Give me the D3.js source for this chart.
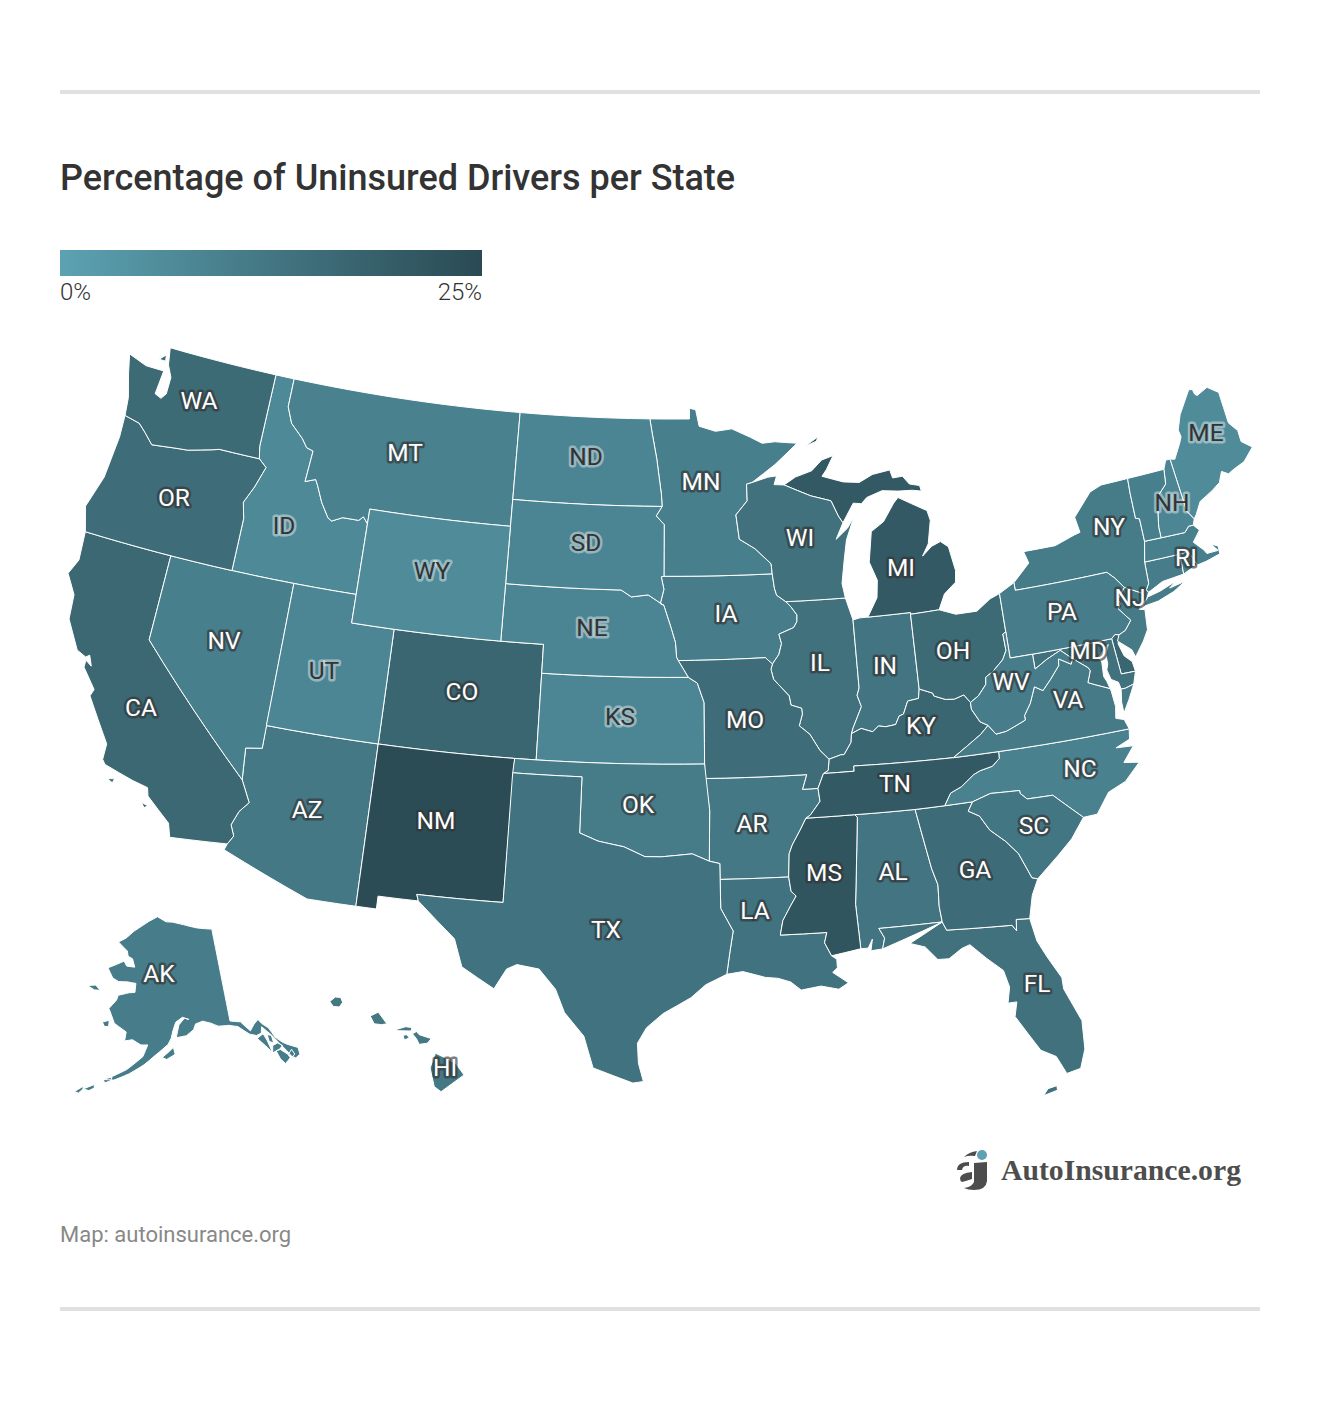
<!DOCTYPE html>
<html>
<head>
<meta charset="utf-8">
<title>Percentage of Uninsured Drivers per State</title>
<script src="https://d3js.org/d3.v7.min.js"></script>
<style>
  body { margin: 0; background: #fff; font-family: Roboto, sans-serif; }
  svg { display: block; }
  .state { stroke: #fff; stroke-width: 1; stroke-linejoin: round; }
  .abbr { font-size: 24.5px; text-anchor: middle; paint-order: stroke; stroke-width: 5px; stroke-linejoin: round; }
</style>
</head>
<body>
<div id="chart"></div>
<script>
// values, percent of uninsured drivers
var stateCodes = ["AK","AL","AR","AZ","CA","CO","CT","DE","FL","GA","HI","IA","ID","IL","IN","KS","KY","LA","MA","MD","ME","MI","MN","MO","MS","MT","NC","ND","NE","NH","NJ","NM","NV","NY","OH","OK","OR","PA","RI","SC","SD","TN","TX","UT","VA","VT","WA","WI","WV","WY"];
var uninsuredPct = [10.5,13,12,12,16.5,17,10.5,17,14,15.5,12,10.5,7,14,13,8,17,13.5,10,14,6.5,20.5,10,15,22,9.5,9.5,8.5,8.5,8,11.5,24.5,10,11,16,11,15,10.5,10,12.5,8.5,20.5,13.5,8,11.5,10,16,14,10.5,6.5];
var legendTicks = ["0%", "25%"];
var legendDomain = [0, 25];
var legendRange = ["#5ca2b2", "#2a4a53"];
var darkTextBelow = 9;

// shared borders as lon/lat chains, so both neighbours use the same line
var redNorth = [[-97.23,49],[-97.1,48.5],[-96.85,47.6],[-96.6,46.35],[-96.56,45.93]];
var sdMn = [[-96.56,45.93],[-96.85,45.6],[-96.45,45.3],[-96.45,43.5]];
var bigSioux = [[-96.45,43.5],[-96.58,43.48],[-96.45,43.05],[-96.62,42.55],[-96.45,42.49]];
var neSd = [[-104.05,43],[-98.5,43],[-98,42.77],[-97.2,42.85],[-96.45,42.49]];
var neIa = [[-96.45,42.49],[-96.1,41.7],[-95.9,41.2],[-95.85,40.7],[-95.77,40.58]];
var ksMo = [[-95.31,40],[-94.9,39.8],[-94.6,39.12],[-94.62,37]];
var stCroix = [[-92.01,46.71],[-92.29,46.66],[-92.29,46.08],[-92.88,45.6],[-92.75,44.75]];
var mnWi = [[-92.75,44.75],[-92,44.4],[-91.25,43.85],[-91.22,43.5]];
var iaWi = [[-91.22,43.5],[-91.15,43],[-91.06,42.75],[-90.64,42.51]];
var iaIl = [[-90.64,42.51],[-90.42,42.33],[-90.15,42.03],[-90.17,41.8],[-90.34,41.6],[-91.05,41.4],[-90.95,41.07],[-91.1,40.7],[-91.42,40.38]];
var moIl = [[-91.42,40.38],[-91.5,40.2],[-91.4,39.85],[-90.73,39.25],[-90.67,38.93],[-90.2,38.8],[-90.18,38.6],[-90.35,38.2],[-89.9,37.88],[-89.5,37.3],[-89.13,36.98]];
var moKy = [[-89.13,36.98],[-89.2,36.6],[-89.42,36.5]];
var arTn = [[-89.7,36],[-89.65,35.55],[-90.1,35.1],[-90.3,35]];
var arMs = [[-90.3,35],[-90.58,34.6],[-90.95,34.1],[-91.1,33.8],[-91.17,33]];
var laMs = [[-91.17,33],[-91.1,32.5],[-90.9,32.33],[-91.15,32],[-91.5,31.5],[-91.63,31],[-89.73,31],[-89.85,30.65],[-89.6,30.18]];
var ohioWv = [[-80.52,40.64],[-80.67,40.58],[-80.65,40],[-80.87,39.7],[-81.4,39.35],[-81.75,39.2],[-81.8,38.95],[-82.2,38.6],[-82.6,38.41]];
var ohKy = [[-82.6,38.41],[-82.85,38.7],[-83.3,38.6],[-83.7,38.63],[-84.2,38.8],[-84.23,38.9],[-84.82,39.1]];
var inKy = [[-84.82,39.1],[-84.9,38.78],[-85.4,38.73],[-85.65,38.3],[-85.85,38.25],[-86.05,37.97],[-86.5,37.93],[-86.82,37.98],[-87.1,37.8],[-87.6,37.95],[-88.05,37.8]];
var ilKy = [[-88.05,37.8],[-88.1,37.5],[-88.45,37.1],[-88.6,37.1],[-89.13,36.98]];
var ilIn = [[-87.53,41.71],[-87.53,39.35],[-87.65,39.1],[-87.5,38.7],[-87.95,38],[-88.05,37.8]];
var wvKy = [[-82.6,38.41],[-82.6,38.17],[-82.3,37.7],[-81.97,37.54]];
var wvVa = [[-81.97,37.54],[-81.68,37.2],[-81.22,37.24],[-80.85,37.35],[-80.3,37.52],[-80.3,37.68],[-79.96,38.06],[-79.65,38.6],[-79.3,38.42],[-78.87,38.76],[-78.4,39.17],[-78.35,39.4],[-77.83,39.14],[-77.72,39.32]];
var vaKy = [[-81.97,37.54],[-82.35,37.27],[-83.68,36.6]];
var kyTn = [[-89.42,36.5],[-88.07,36.5],[-88.07,36.68],[-86.5,36.65],[-83.68,36.6]];
var tnNc = [[-81.68,36.59],[-81.7,36.35],[-82.05,36.12],[-82.6,36.03],[-82.9,35.93],[-83.5,35.57],[-84,35.4],[-84.32,34.99]];
var ncSc = [[-83.11,35],[-82.3,35.2],[-81.04,35.15],[-81.04,35.05],[-80.78,34.82],[-79.67,34.8],[-78.55,33.86]];
var savannah = [[-83.11,35],[-83.35,34.7],[-82.9,34.48],[-82.55,33.95],[-81.95,33.48],[-81.5,33],[-81.1,32.1],[-80.87,32.03]];
var gaAl = [[-85.6,34.98],[-85.18,32.87],[-85,32.3],[-85.05,31.55],[-85,31]];
var alFl = [[-85,31],[-87.6,31],[-87.4,30.65],[-87.52,30.28]];
var gaFl = [[-85,31],[-84.86,30.7],[-82.2,30.57],[-82.05,30.36],[-82,30.75],[-81.45,30.71]];
var alMs = [[-88.2,35],[-88.1,34.9],[-88.47,31.9],[-88.4,30.35]];
var wiMi = [[-90.4,46.57],[-89.1,46.13],[-88.1,45.9],[-87.8,45.35],[-87.6,45.1]];
var delaware = [[-74.7,41.36],[-75.13,41],[-75.05,40.85],[-75.2,40.68],[-74.75,40.2],[-75.1,39.9],[-75.42,39.8]];
var mdWv = [[-79.48,39.72],[-79.48,39.2],[-78.9,39.45],[-78.45,39.6],[-78.2,39.68],[-77.72,39.32]];
var potomac = [[-77.72,39.32],[-77.1,38.9],[-77.04,38.79],[-77.25,38.4],[-76.95,38.28],[-76.32,38.04]];
var nyPa = [[-79.76,42.27],[-79.76,42],[-75.35,42],[-75.05,41.75],[-74.7,41.36]];
var nyVt = [[-73.35,45.01],[-73.4,44.5],[-73.43,43.6],[-73.25,43.55],[-73.27,42.75]];
var vtNh = [[-71.5,45.01],[-71.6,44.5],[-72.05,44.2],[-72.3,43.65],[-72.45,43.1],[-72.46,42.73]];
var nhMa = [[-72.46,42.73],[-71.3,42.7],[-71.05,42.88],[-70.82,42.87]];
var nhMe = [[-71.08,45.3],[-70.95,43.4],[-70.7,43.07]];
var riMa = [[-71.8,42.02],[-71.38,42.02],[-71.2,41.67],[-71.12,41.5]];
var idMt = [[-116.05,49],[-116.05,48],[-115.7,47.45],[-115,47],[-114.7,46.72],[-114.35,46.65],[-114.45,45.55],[-113.95,45.69],[-113.8,45.5],[-113.45,44.95],[-113,44.45],[-112.8,44.37],[-112.3,44.55],[-111.5,44.55],[-111.3,44.7],[-111.05,44.48]];
var orId = [[-116.92,46],[-116.5,45.75],[-116.85,45],[-117.22,44.4],[-117.03,43.85],[-117.03,42]];
var columbia = [[-116.92,46],[-118.98,46],[-119.3,45.93],[-120.5,45.7],[-121.2,45.65],[-122.3,45.55],[-122.8,45.9],[-123.2,46.15],[-124,46.27]];
var colorado = [[-114.63,35],[-114.15,34.27],[-114.5,33.9],[-114.72,33.4],[-114.52,33.03],[-114.72,32.72]];
var redSouth = [[-100,34.56],[-99.2,34.3],[-98.1,34.13],[-97.2,33.8],[-96.5,33.8],[-95.2,33.9],[-94.48,33.64]];
var sabine = [[-94.04,31.99],[-93.55,31.2],[-93.7,30.5],[-93.85,29.7]];
var chesWest = [[-76.32,38.04],[-76.4,38.3],[-76.5,38.5],[-76.45,39],[-76.55,39.2],[-76.1,39.5],[-76,39.55]];
var chesEast = [[-76,39.55],[-76.2,39.2],[-76.2,38.9],[-76.3,38.7],[-76.2,38.35],[-75.9,38.2],[-75.85,37.95]];

function rev(a) { return a.slice().reverse(); }
function ring() { return [].concat.apply([], arguments); }

// outlines in lon/lat, first ring of each entry is one polygon
var outlines = {
  WA: [ring([[-122.76,49],[-117.03,49],[-117.04,46.43]], columbia, [[-124.1,46.9],[-124.45,47.7],[-124.7,48.38],[-123.7,48.15],[-122.75,48.15],[-122.85,47.3],[-122.5,47.2],[-122.3,47.4],[-122.3,48],[-122.6,48.4]]), [[-123.15,48.5],[-122.85,48.72],[-122.8,48.5]]],
  OR: [ring(rev(columbia), orId, [[-124.2,42],[-124.55,42.85],[-124.1,44],[-123.95,45.5]])],
  CA: [ring([[-124.2,42],[-120,42],[-120,39]], colorado, [[-117.12,32.53],[-117.3,33],[-118.4,33.75],[-118.5,34.03],[-119.2,34.15],[-120.5,34.45],[-120.65,34.6],[-120.65,35.15],[-121.9,36.6],[-121.8,36.85],[-122.5,37.5],[-122.5,37.75],[-122.2,37.6],[-122.4,37.95],[-122.55,37.85],[-123,38],[-123.75,38.95],[-123.85,39.8],[-124.4,40.45],[-124.1,41]]), [[-118.6,33.48],[-118.3,33.42],[-118.45,33.33]], [[-120.25,34],[-119.95,34.05],[-120,33.9]]],
  NV: [[[-120,42],[-114.04,42],[-114.04,36.2],[-114.75,36.1],[-114.63,35],[-120,39]]],
  ID: [ring([[-117.03,49]], idMt, [[-111.05,42]], rev(orId), [[-117.04,46.43]])],
  MT: [ring([[-116.05,49],[-104.05,49],[-104.05,45],[-111.05,45]], rev(idMt))],
  WY: [[[-111.05,45],[-104.05,45],[-104.05,41],[-111.05,41]]],
  UT: [[[-114.04,42],[-111.05,42],[-111.05,41],[-109.05,41],[-109.05,37],[-114.05,37]]],
  CO: [[[-109.05,41],[-102.05,41],[-102.05,37],[-109.05,37]]],
  AZ: [ring([[-114.05,37],[-109.05,37],[-109.05,31.33],[-111.07,31.33],[-114.8,32.5]], rev(colorado), [[-114.75,36.1],[-114.04,36.2]])],
  NM: [[[-109.05,37],[-103,37],[-103.04,32],[-106.62,32],[-106.53,31.78],[-108.2,31.78],[-108.2,31.33],[-109.05,31.33]]],
  TX: [ring([[-103.04,36.5],[-100,36.5]], redSouth, [[-94.04,33.55],[-94.04,33]], sabine, [[-94.7,29.35],[-95.3,28.9],[-96.4,28.35],[-97.05,27.85],[-97.4,27.3],[-97.35,26.6],[-97.15,25.96],[-97.55,25.9],[-99.1,26.4],[-99.5,27.5],[-100.3,28.3],[-100.7,29.1],[-101.4,29.77],[-102.3,29.88],[-102.7,29.7],[-103.15,28.98],[-104.5,29.65],[-104.9,30.6],[-106.53,31.78],[-106.62,32],[-103.04,32]])],
  OK: [ring([[-103,37],[-94.62,37],[-94.43,35.4]], rev(redSouth), [[-100,36.5],[-103.04,36.5]])],
  KS: [ring([[-102.05,40]], ksMo, [[-102.05,37]])],
  NE: [ring(neSd, neIa, [[-95.31,40],[-102.05,40],[-102.05,41],[-104.05,41]])],
  SD: [ring([[-104.05,45.94]], sdMn, bigSioux, rev(neSd))],
  ND: [ring([[-104.05,49]], redNorth, [[-104.05,45.94]])],
  MN: [ring(redNorth.slice(0,1), [[-95.15,49],[-95.15,49.38],[-94.82,49.32],[-94.65,48.74],[-93.8,48.55],[-92.95,48.62],[-92,48.3],[-91.4,48.07],[-90.75,48.1],[-89.6,48],[-90.8,47.3]], stCroix, mnWi, rev(sdMn), rev(redNorth))],
  IA: [ring(bigSioux.slice(0,1), iaWi, iaIl, [[-91.73,40.61],[-95.77,40.58]], rev(neIa), rev(bigSioux))],
  MO: [ring([[-95.77,40.58],[-91.73,40.61]], moIl, moKy, [[-89.7,36],[-90.37,36],[-90.15,36.5],[-94.62,36.5]], rev(ksMo))],
  AR: [ring([[-94.62,36.5],[-90.15,36.5],[-90.37,36]], arTn, arMs, [[-94.04,33],[-94.04,33.55],[-94.48,33.64],[-94.43,35.4]])],
  LA: [ring([[-94.04,33]], laMs, [[-89.4,30.05],[-89.4,29.75],[-89.6,29.6],[-89,29.2],[-89.4,29],[-90.1,29.15],[-90.9,29.05],[-91.3,29.35],[-91.8,29.5],[-92.3,29.55],[-93.2,29.78]], rev(sabine))],
  WI: [ring([[-92.01,46.71],[-91.2,46.87],[-90.75,46.9],[-90.9,46.6]], wiMi, [[-88,44.55],[-87.4,44.9],[-87.05,45.25],[-87.5,44.5],[-87.7,43.8],[-87.9,43],[-87.8,42.49]], rev(iaWi), rev(mnWi), rev(stCroix))],
  IL: [ring(iaIl.slice(0,1), [[-87.8,42.49]], ilIn, ilKy, rev(moIl), rev(iaIl))],
  IN: [ring([[-87.53,41.71],[-87.2,41.76],[-86.82,41.76],[-84.8,41.76],[-84.81,41.7]], inKy, rev(ilIn))],
  MI: [ring([[-86.82,41.76],[-86.3,42.4],[-86.2,43],[-86.5,43.65],[-86.25,44.7],[-85.6,45],[-85,45.6],[-84.75,45.78],[-84.1,45.5],[-83.4,45.2],[-83.3,44.85],[-83.55,44.05],[-83.9,43.65],[-83.4,43.95],[-82.95,44.07],[-82.6,43.85],[-82.42,43],[-82.5,42.6],[-83.1,42.25],[-83.45,41.73],[-84.81,41.7],[-84.8,41.76]]),
       ring(wiMi.slice(0,1), [[-89.8,46.82],[-88.95,47],[-88.4,47.35],[-87.8,47.47],[-88.2,47],[-88.45,46.78],[-87.4,46.52],[-86.6,46.45],[-85.9,46.68],[-85,46.77],[-84.9,46.48],[-84.4,46.5],[-84.1,46.2],[-83.6,46.1],[-83.55,45.9],[-84,45.97],[-84.7,46],[-85.5,46.08],[-86.3,45.9],[-86.6,45.7],[-87,45.75]], rev(wiMi)),
       [[-89.2,47.87],[-88.5,48.17],[-88.6,48.02]]],
  OH: [ring([[-84.81,41.7],[-83.45,41.73],[-82.7,41.5],[-81.7,41.5],[-81,41.85],[-80.52,41.98]], ohioWv, ohKy)],
  KY: [ring(moKy, kyTn, rev(vaKy), rev(wvKy), ohKy, inKy, ilKy)],
  TN: [ring([[-90.3,35],[-88.2,35],[-85.6,34.98]], rev(tnNc), rev(kyTn), [[-89.42,36.5]], arTn)],
  MS: [ring([[-90.3,35]], alMs, [[-89.6,30.18]], rev(laMs), rev(arMs))],
  AL: [ring(alMs.slice(0,1), gaAl, alFl, [[-88,30.25],[-87.9,30.65],[-88.1,30.35]], rev(alMs))],
  GA: [ring(gaAl.slice(0,1), [[-84.32,34.99]], savannah, [[-81.2,31.5]], rev(gaFl), rev(gaAl))],
  FL: [ring(rev(alFl), [[-86.4,30.38],[-85.8,30.2],[-85.35,29.72],[-84.9,29.7],[-84.35,30],[-84,30.1],[-83.4,29.55],[-82.8,29.05],[-82.65,28.45],[-82.8,27.9],[-82.45,27.9],[-82.6,27.4],[-82.2,26.75],[-81.8,26.1],[-81.25,25.8],[-80.95,25.15],[-80.4,25.25],[-80.12,25.9],[-80.05,26.9],[-80.55,28.1],[-80.55,28.5],[-81,29.3],[-81.3,29.9]], rev(gaFl)), [[-81.95,24.5],[-81.75,24.72],[-81.4,24.78],[-81.4,24.62]]],
  SC: [ring(ncSc, [[-79.2,33.2],[-79.9,32.7]], rev(savannah))],
  NC: [ring([[-81.68,36.59],[-75.87,36.55],[-75.95,36.2],[-76.6,36],[-75.85,35.95],[-76.4,35.45],[-75.75,35.35],[-76.5,34.8],[-77.3,34.55],[-77.95,33.88]], rev(ncSc), tnNc.slice(-1), rev(tnNc))],
  VA: [ring([[-83.68,36.6],[-81.68,36.59],[-75.87,36.55],[-76,36.9],[-76.35,37],[-76.25,37.4],[-76.3,37.95]], rev(potomac), rev(wvVa), vaKy), [[-75.65,37.95],[-75.25,38.03],[-75.6,37.55],[-75.95,37.12],[-75.95,37.5],[-75.85,37.95]]],
  WV: [ring([[-80.52,40.64],[-80.52,39.72]], mdWv, rev(wvVa), rev(wvKy), rev(ohioWv))],
  MD: [ring([[-79.48,39.72],[-75.79,39.72],[-75.7,38.46],[-75.05,38.45],[-75.25,38.03],[-75.65,37.95]], rev(chesEast), rev(chesWest), rev(potomac), rev(mdWv))],
  DE: [[[-75.79,39.72],[-75.6,39.84],[-75.42,39.8],[-75.55,39.5],[-75.4,39.05],[-75.1,38.8],[-75.05,38.45],[-75.7,38.46]]],
  PA: [ring([[-80.52,41.98]], nyPa, delaware, [[-75.6,39.84],[-75.79,39.72],[-80.52,39.72]])],
  NJ: [ring(delaware.slice(0,1), [[-73.9,41],[-74.02,40.7],[-74.25,40.5],[-74,40.45],[-74.1,39.75],[-74.4,39.4],[-74.9,38.93],[-75,39.2],[-75.55,39.6]], rev(delaware))],
  NY: [ring(nyPa.slice(0,1), [[-78.9,42.85],[-79.05,43.27],[-77.5,43.27],[-76.5,43.5],[-76.2,43.55],[-76.3,44.1],[-75.3,44.85],[-74.7,45]], nyVt, [[-73.5,42.05],[-73.55,41.3],[-73.73,41.1],[-73.65,41],[-73.8,40.8],[-74,40.7],[-73.9,41]], rev(nyPa)), [[-74.03,40.6],[-73.75,40.85],[-73.1,40.95],[-72.3,41.15],[-72.65,40.97],[-71.87,41.07],[-72.5,40.82],[-73.3,40.63],[-74,40.57]]],
  VT: [ring(nyVt.slice(0,1), vtNh, [[-73.27,42.75]], rev(nyVt))],
  NH: [ring(vtNh.slice(0,1), [[-71.3,45.3]], nhMe, rev(nhMa), rev(vtNh))],
  MA: [ring([[-73.27,42.75]], nhMa, [[-70.6,42.65],[-71.03,42.3],[-70.65,41.95],[-70.55,41.8],[-70,41.8],[-70.25,42.07],[-69.95,41.95],[-69.97,41.67],[-70.65,41.55]], rev(riMa), [[-73.5,42.05]])],
  RI: [ring(riMa, [[-71.4,41.45],[-71.85,41.32]])],
  CT: [[[-73.5,42.05],[-71.8,42.02],[-71.85,41.32],[-72.9,41.25],[-73.65,41],[-73.73,41.1],[-73.55,41.3]]],
  ME: [ring(nhMe.slice(0,1), [[-70.85,45.25],[-70.4,45.75],[-70.25,45.95],[-70.3,46.2],[-70,46.7],[-69.23,47.46],[-69.05,47.43],[-69,47.25],[-68.9,47.18],[-68.3,47.36],[-67.8,47.07],[-67.78,45.95],[-67.45,45.6],[-67.45,45.2],[-67,44.9],[-67.6,44.5],[-68.2,44.35],[-68.5,44.25],[-68.8,44.4],[-69.05,44.05],[-69.5,43.85],[-70.2,43.6],[-70.55,43.2]], rev(nhMe))],
  AK: [[[-141,69.65],[-141,60.3],[-139,60],[-137.5,58.9],[-136.5,59.45],[-135.5,59.8],[-135,59.3],[-134,58.7],[-133.3,57.6],[-132.3,56.9],[-131.7,56.6],[-130,55.9],[-130.1,55.2],[-131,55],[-131.6,55.3],[-132.1,56],[-133,57],[-133.8,57.9],[-135.2,59],[-135.6,58.4],[-136.6,58.3],[-137.8,58.6],[-139.7,59.6],[-141.4,59.9],[-143.5,60],[-144.9,60.4],[-146.5,60.7],[-148,60.5],[-148.5,59.95],[-150,59.4],[-152,59.25],[-151.4,60.5],[-150.2,61.15],[-149.3,61],[-150.6,61.25],[-152,60.8],[-152.6,60],[-153,59.2],[-153.6,58.6],[-156,57.5],[-158,56.5],[-160.5,55.5],[-163,54.7],[-164.9,54.6],[-163.2,55.1],[-161,55.9],[-158.3,57.3],[-157.5,58.5],[-158.8,58.45],[-160.5,58.9],[-162,58.7],[-161.9,59.6],[-164.5,60.3],[-165.4,61.1],[-166.1,61.65],[-164.8,62.6],[-164.6,63.1],[-162.3,63.5],[-161,63.6],[-161,64.5],[-163,64.55],[-165,64.45],[-166.5,64.7],[-168.1,65.6],[-164.5,66.55],[-163.7,66.1],[-161.7,66.1],[-162.5,66.9],[-163.7,67.1],[-164.1,67.6],[-166.8,68.35],[-165,68.85],[-163,69.7],[-161,70.3],[-159,70.85],[-156.6,71.35],[-154,70.85],[-152,70.8],[-149,70.5],[-145,70]],
       [[-154.7,57.3],[-153.9,57.1],[-152.3,57.6],[-152.6,58.3],[-153.4,57.9]],
       [[-171.7,63.4],[-170,63.65],[-168.7,63.25],[-170,63.15]],
       [[-166.9,60.2],[-165.6,60.5],[-165.5,59.9],[-166.3,59.8]],
       [[-136.6,58],[-135.3,58.3],[-134.9,57.5],[-134.6,56.2],[-135.5,57.1]],
       [[-134.6,58.1],[-133.9,57.9],[-133.9,57.1],[-134.6,57.4]],
       [[-134.6,56.2],[-134.2,56.9],[-133.2,57],[-132.5,56.6],[-133.2,56.35]],
       [[-133.9,56.3],[-133.1,56.3],[-132.1,55.6],[-131.9,55.2],[-133,54.8],[-133.6,55.4]],
       [[-132,55.6],[-131.2,55.95],[-130.95,55.4],[-131.5,55.2]],
       [[-164.9,54.65],[-163.4,54.95],[-163.6,54.55],[-164.5,54.3]],
       [[-167.9,53.3],[-166.2,53.95],[-166.1,53.6],[-166.9,53.25]],
       [[-169.2,52.85],[-168,53.55],[-167.9,53.3],[-168.5,52.8]]],
  HI: [[[-159.78,22.07],[-159.58,22.23],[-159.38,22.22],[-159.3,22.05],[-159.42,21.88],[-159.65,21.9]],
       [[-158.27,21.57],[-157.97,21.71],[-157.65,21.3],[-157.85,21.27],[-158.12,21.3]],
       [[-157.3,21.1],[-156.95,21.2],[-156.72,21.17],[-156.75,21.05],[-157.25,21.06]],
       [[-157.05,20.9],[-156.9,20.92],[-156.82,20.8],[-157,20.74]],
       [[-156.7,20.95],[-156.55,21.03],[-156.45,20.92],[-156,20.78],[-156.15,20.62],[-156.45,20.58],[-156.55,20.78]],
       [[-156.05,19.75],[-155.85,20.27],[-155.55,20.13],[-155.1,19.9],[-154.8,19.5],[-155.65,18.92],[-155.9,19.1]]]
};

// label spots on the page
var labelAt = {AK:[159,974],AL:[893,872],AR:[752,824],AZ:[307,810],CA:[141,708],CO:[462,692],FL:[1037,984],GA:[975,870],HI:[445,1068],IA:[726,614],ID:[284,526],IL:[820,663],IN:[885,666],KS:[620,717],KY:[921,726],LA:[755,911],MD:[1088,651],ME:[1206,433],MI:[901,568],MN:[701,482],MO:[745,720],MS:[824,873],MT:[405,453],NC:[1080,769],ND:[586,457],NE:[592,628],NH:[1172,503],NJ:[1130,598],NM:[436,821],NV:[224,641],NY:[1109,527],OH:[953,651],OK:[638,805],OR:[174,498],PA:[1062,612],RI:[1186,558],SC:[1034,826],SD:[586,543],TN:[895,784],TX:[606,930],UT:[324,671],VA:[1068,700],WA:[199,401],WI:[800,538],WV:[1011,682],WY:[432,571]};

var svg = d3.select("#chart").append("svg").attr("width", 1320).attr("height", 1402);

var color = d3.scaleLinear().domain(legendDomain).range(legendRange);
var projection = d3.geoAlbersUsa().scale(1643).translate([660, 715]);

// borders follow lat/lon lines, so fill in points along each edge before projecting
function densify(r) {
  var out = [];
  r.concat([r[0]]).forEach(function (p, i, all) {
    if (i === 0) { out.push(p); return; }
    var q = all[i - 1];
    var n = Math.ceil(Math.max(Math.abs(p[0] - q[0]), Math.abs(p[1] - q[1])));
    d3.range(1, n + 1).forEach(function (k) {
      out.push([q[0] + (p[0] - q[0]) * k / n, q[1] + (p[1] - q[1]) * k / n]);
    });
  });
  return out;
}

var path = d3.geoPath(d3.geoTransform({
  point: function (x, y) {
    var p = projection([x, y]);
    if (p) this.stream.point(p[0], p[1]);
  }
}));

var features = stateCodes.map(function (code, i) {
  return {
    type: "Feature",
    id: code,
    properties: { pct: uninsuredPct[i] },
    geometry: { type: "MultiPolygon", coordinates: outlines[code].map(function (r) { return [densify(r)]; }) }
  };
});

// rules and heading
svg.selectAll(".rule").data([90, 1307]).enter().append("rect")
  .attr("x", 60).attr("y", function (d) { return d; })
  .attr("width", 1200).attr("height", 4).attr("fill", "#e1e1e1");

svg.append("text").attr("x", 60).attr("y", 190)
  .attr("font-size", 36).attr("font-weight", 500).attr("fill", "#333").text("Percentage of Uninsured Drivers per State");

// legend
var grad = svg.append("defs").append("linearGradient").attr("id", "ramp");
grad.selectAll("stop").data(legendRange).enter().append("stop")
  .attr("offset", function (d, i) { return i * 100 + "%"; })
  .attr("stop-color", function (d) { return d; });
svg.append("rect").attr("x", 60).attr("y", 250).attr("width", 422).attr("height", 26).attr("fill", "url(#ramp)");
svg.selectAll(".tick").data(legendTicks).enter().append("text")
  .attr("x", function (d, i) { return i ? 482 : 60; }).attr("y", 300)
  .attr("text-anchor", function (d, i) { return i ? "end" : "start"; })
  .attr("font-size", 24).attr("font-weight", 300).attr("fill", "#333").text(function (d) { return d; });

// map
svg.append("g").selectAll("path").data(features).enter().append("path")
  .attr("class", "state")
  .attr("d", path)
  .attr("fill", function (d) { return color(d.properties.pct); });

// state codes
var labelled = features.filter(function (d) { return labelAt[d.id]; });
svg.append("g").selectAll("text").data(labelled).enter().append("text")
  .attr("class", "abbr")
  .attr("x", function (d) { return labelAt[d.id][0]; })
  .attr("y", function (d) { return labelAt[d.id][1] + 8; })
  .attr("fill", function (d) { return d.properties.pct < darkTextBelow ? "#333" : "#fff"; })
  .attr("stroke", function (d) { return d.properties.pct < darkTextBelow ? "rgba(255,255,255,0.42)" : "rgba(51,51,51,0.65)"; })
  .text(function (d) { return d.id; });

// logo
var logo = svg.append("g").attr("fill", "#4d4d4d");
["M964 1157Q969 1152 977 1151L975 1156Q969 1155 964 1157Z",
 "M957 1170Q957 1162 969 1162L969 1166Q963 1165 962 1170Z",
 "M960 1178Q961 1173 972 1172L972 1179Q966 1181 962 1182Q960 1181 960 1178Z",
 "M974 1163L987 1162L987 1181Q986 1190 974 1190Q968 1190 964 1188Q972 1187 974 1182Z"
].forEach(function (d) { logo.append("path").attr("d", d); });
logo.append("circle").attr("cx", 982).attr("cy", 1155).attr("r", 5).attr("fill", "#5ca2b2");
logo.append("text").attr("x", 1001).attr("y", 1180)
  .attr("font-family", "'Liberation Serif', serif").attr("font-weight", 700)
  .attr("font-size", 29.7).text("AutoInsurance.org");

// source
svg.append("text").attr("x", 60).attr("y", 1242).attr("font-size", 22).attr("fill", "#888").text("Map: autoinsurance.org");
</script>
</body>
</html>
